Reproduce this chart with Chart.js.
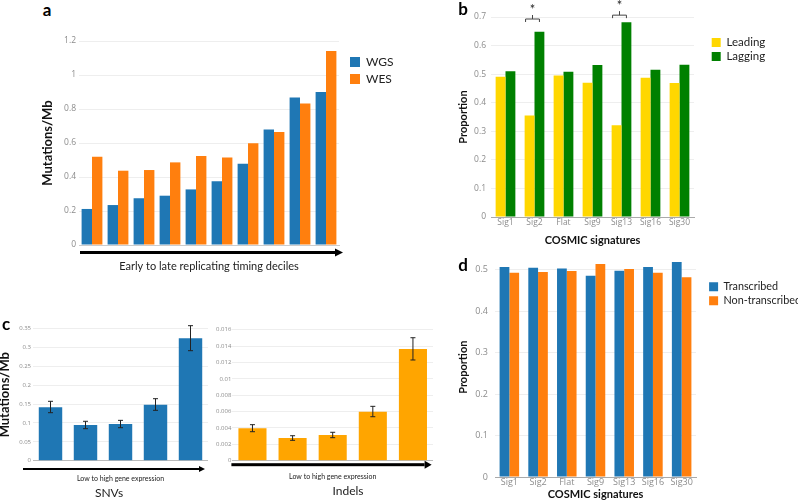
<!DOCTYPE html>
<html>
<head>
<meta charset="utf-8">
<script src="https://cdn.jsdelivr.net/npm/chart.js@4"></script>
<style>
  body { margin: 0; width: 798px; height: 500px; position: relative; overflow: hidden; background: #fff; font-family: Lato, sans-serif; }
  canvas { position: absolute; }
  .tag { position: absolute; transform: translate(-50%, -50%); font-weight: bold; font-size: 17px; line-height: 1; color: #000; }
  .cap { position: absolute; transform: translate(-50%, -50%); line-height: 1; color: #222; white-space: nowrap; }
</style>
</head>
<body>
<canvas id="chartA" width="370" height="252" style="left:30px;top:30px"></canvas>
<canvas id="chartB" width="353" height="250" style="left:445px;top:0px"></canvas>
<canvas id="chartD" width="353" height="255" style="left:445px;top:245px"></canvas>
<canvas id="chartSnv" width="212" height="186" style="left:-4px;top:300px"></canvas>
<canvas id="chartIndel" width="228" height="184" style="left:205px;top:300px"></canvas>

<div class="tag" style="left:47px;top:9px">a</div>
<div class="tag" style="left:463px;top:8px">b</div>
<div class="tag" style="left:6px;top:323px">c</div>
<div class="tag" style="left:463px;top:264px">d</div>
<div class="cap" style="left:109px;top:493px;font-size:12px">SNVs</div>
<div class="cap" style="left:348px;top:491px;font-size:12px">Indels</div>

<script>
// panel a: replication timing deciles
const decileLabels = ['D1', 'D2', 'D3', 'D4', 'D5', 'D6', 'D7', 'D8', 'D9', 'D10'];
const wgsRate = [0.212, 0.235, 0.275, 0.290, 0.327, 0.375, 0.478, 0.680, 0.867, 0.900];
const wesRate = [0.519, 0.437, 0.441, 0.486, 0.524, 0.514, 0.598, 0.665, 0.833, 1.141];

// panel b: replication strand
const sigLabels = ['Sig1', 'Sig2', 'Flat', 'Sig9', 'Sig13', 'Sig16', 'Sig30'];
const leadingProp = [0.491, 0.355, 0.495, 0.470, 0.321, 0.487, 0.469];
const laggingProp = [0.510, 0.648, 0.508, 0.532, 0.682, 0.515, 0.533];
const significantSigs = ['Sig2', 'Sig13'];

// panel c: gene expression bins
const exprBins = ['Q1', 'Q2', 'Q3', 'Q4', 'Q5'];
const snvRate = [0.1416, 0.0947, 0.0973, 0.1485, 0.3246];
const snvLow = [0.1273, 0.0849, 0.0875, 0.1336, 0.2917];
const snvHigh = [0.1575, 0.1045, 0.1070, 0.1644, 0.3580];
const indelRate = [0.00396, 0.00277, 0.00314, 0.00598, 0.01364];
const indelLow = [0.00354, 0.00249, 0.00281, 0.00537, 0.01230];
const indelHigh = [0.00440, 0.00305, 0.00347, 0.00664, 0.01502];

// panel d: transcription strand
const transcribedProp = [0.507, 0.505, 0.503, 0.486, 0.498, 0.507, 0.519];
const nonTranscribedProp = [0.493, 0.495, 0.497, 0.514, 0.502, 0.493, 0.482];

Chart.defaults.font.family = 'Lato, sans-serif';
Chart.defaults.color = '#222';
Chart.defaults.animation = false;

const tickColor = '#8c8c8c';
const gridColor = '#eeeeee';
const trim = v => String(Math.round(v * 1e6) / 1e6);

// legend keeps a fixed reserved width and sits where the original has it
function placeLegend(width, x, y) {
  return {
    id: 'placeLegend',
    afterInit(chart) {
      const lg = chart.legend;
      const fit = lg.fit;
      lg.fit = function () { fit.call(this); this.width = width; };
    },
    afterLayout(chart) {
      const lg = chart.legend;
      const w = lg.width, h = lg.height;
      lg.left = x; lg.right = x + w; lg.top = y; lg.bottom = y + h;
    }
  };
}

// black arrow under the x axis
function axisArrow({ dy, from, to, lw, head, hh }) {
  return {
    id: 'axisArrow',
    afterDraw(chart) {
      const { ctx, chartArea: a } = chart;
      const y = a.bottom + dy, x0 = a.left + from, x1 = a.right + to;
      ctx.save();
      ctx.fillStyle = '#000';
      ctx.fillRect(x0, y - lw / 2, x1 - head - x0, lw);
      ctx.beginPath();
      ctx.moveTo(x1, y);
      ctx.lineTo(x1 - head, y - hh);
      ctx.lineTo(x1 - head, y + hh);
      ctx.closePath();
      ctx.fill();
      ctx.restore();
    }
  };
}

function errorBars(low, high, cap) {
  return {
    id: 'errorBars',
    afterDatasetsDraw(chart) {
      const { ctx, scales: { y } } = chart;
      ctx.save();
      ctx.strokeStyle = '#222';
      ctx.lineWidth = 1;
      chart.getDatasetMeta(0).data.forEach((bar, i) => {
        const t = y.getPixelForValue(high[i]), b = y.getPixelForValue(low[i]);
        ctx.beginPath();
        ctx.moveTo(bar.x, t); ctx.lineTo(bar.x, b);
        ctx.moveTo(bar.x - cap, t); ctx.lineTo(bar.x + cap, t);
        ctx.moveTo(bar.x - cap, b); ctx.lineTo(bar.x + cap, b);
        ctx.stroke();
      });
      ctx.restore();
    }
  };
}

function sigBrackets(cats) {
  return {
    id: 'sigBrackets',
    afterDraw(chart) {
      const { ctx, chartArea } = chart;
      const m0 = chart.getDatasetMeta(0), m1 = chart.getDatasetMeta(1);
      ctx.save();
      ctx.strokeStyle = '#444';
      ctx.lineWidth = 1;
      ctx.fillStyle = '#222';
      ctx.font = '13px Lato';
      ctx.textAlign = 'center';
      ctx.textBaseline = 'middle';
      cats.forEach(c => {
        const i = sigLabels.indexOf(c);
        const x0 = m0.data[i].x - 4, x1 = m1.data[i].x, xm = (x0 + x1) / 2;
        const y = Math.min(chartArea.top + 2, m1.data[i].y - 7);
        ctx.beginPath();
        ctx.moveTo(x0, y + 3); ctx.lineTo(x0, y); ctx.lineTo(x1, y); ctx.lineTo(x1, y + 3);
        ctx.moveTo(xm, y); ctx.lineTo(xm, y - 4);
        ctx.stroke();
        ctx.fillText('*', xm, y - 9);
      });
      ctx.restore();
    }
  };
}

function yAxis({ max, step, width, size, pad, title, titleSize = 12, titlePad, bounds = true }) {
  return {
    min: 0, max,
    afterFit: s => { s.width = width; },
    border: { display: false },
    grid: { color: gridColor, drawTicks: false },
    ticks: { stepSize: step, padding: pad, color: tickColor, includeBounds: bounds,
             font: { family: '"Open Sans", sans-serif', size }, callback: trim },
    title: title
      ? { display: true, text: title, color: '#111', font: { size: titleSize, weight: 'bold' }, padding: { top: titlePad, bottom: 0 } }
      : { display: false }
  };
}

function legendOpts(box, size, pad) {
  return { position: 'right', align: 'start',
           labels: { boxWidth: box, boxHeight: box, padding: pad, color: '#222', font: { size } } };
}

// ---- a
new Chart(document.getElementById('chartA'), {
  type: 'bar',
  data: {
    labels: decileLabels,
    datasets: [
      { label: 'WGS', data: wgsRate, backgroundColor: '#1f77b4' },
      { label: 'WES', data: wesRate, backgroundColor: '#ff7f0e' }
    ]
  },
  options: {
    responsive: false,
    layout: { padding: { top: 11 } },
    datasets: { bar: { categoryPercentage: 0.8, barPercentage: 1 } },
    scales: {
      x: {
        afterFit: s => { s.height = 37; },
        grid: { display: false, drawTicks: false },
        border: { color: '#cccccc' },
        ticks: { display: false },
        title: { display: true, text: 'Early to late replicating timing deciles', color: '#222',
                 font: { size: 11 }, padding: { top: 0, bottom: 9.4 } }
      },
      y: yAxis({ max: 1.2, step: 0.2, width: 49, size: 8.5, pad: 3, title: 'Mutations/Mb', titleSize: 13, titlePad: 10 })
    },
    plugins: { legend: legendOpts(10, 12, 5), tooltip: { enabled: false } }
  },
  plugins: [placeLegend(61, 315, 21), axisArrow({ dy: 7.5, from: 1, to: 4, lw: 3, head: 8, hh: 4 })]
});

// ---- b
new Chart(document.getElementById('chartB'), {
  type: 'bar',
  data: {
    labels: sigLabels,
    datasets: [
      { label: 'Leading', data: leadingProp, backgroundColor: '#ffd700' },
      { label: 'Lagging', data: laggingProp, backgroundColor: '#008000' }
    ]
  },
  options: {
    responsive: false,
    layout: { padding: { top: 17 } },
    datasets: { bar: { categoryPercentage: 0.68, barPercentage: 1 } },
    scales: {
      x: {
        afterFit: s => { s.height = 33; },
        grid: { display: false, drawTicks: false },
        border: { color: '#aaaaaa' },
        ticks: { padding: 0, color: tickColor, font: { family: '"Open Sans", sans-serif', size: 8.5 } },
        title: { display: true, text: 'COSMIC signatures', color: '#111',
                 font: { size: 11, weight: 'bold' }, padding: { top: 0, bottom: 3.4 } }
      },
      y: yAxis({ max: 0.7, step: 0.1, width: 46, size: 8.5, pad: 5, title: 'Proportion', titleSize: 11, titlePad: 11.4 })
    },
    plugins: { legend: legendOpts(9, 11.5, 2.5), tooltip: { enabled: false } }
  },
  plugins: [placeLegend(104, 264.2, 34.2), sigBrackets(significantSigs)]
});

// ---- d
new Chart(document.getElementById('chartD'), {
  type: 'bar',
  data: {
    labels: sigLabels,
    datasets: [
      { label: 'Transcribed', data: transcribedProp, backgroundColor: '#1f77b4' },
      { label: 'Non-transcribed', data: nonTranscribedProp, backgroundColor: '#ff7f0e' }
    ]
  },
  options: {
    responsive: false,
    layout: { padding: { top: 5.5 } },
    datasets: { bar: { categoryPercentage: 0.68, barPercentage: 1 } },
    scales: {
      x: {
        afterFit: s => { s.height = 23; },
        grid: { display: false, drawTicks: false },
        border: { color: '#aaaaaa' },
        ticks: { padding: 0, color: tickColor, font: { family: '"Open Sans", sans-serif', size: 9 } },
        title: { display: true, text: 'COSMIC signatures', color: '#111',
                 font: { size: 11, weight: 'bold', lineHeight: 1 }, padding: { top: 0, bottom: 0.5 } }
      },
      y: yAxis({ max: 0.53, step: 0.1, width: 50, size: 9, pad: 7, title: 'Proportion', titleSize: 11, titlePad: 11.4, bounds: false })
    },
    plugins: { legend: legendOpts(9, 10.8, 3.3), tooltip: { enabled: false } }
  },
  plugins: [placeLegend(102, 260.8, 33), sigBrackets([])]
});

// ---- c, SNVs
new Chart(document.getElementById('chartSnv'), {
  type: 'bar',
  data: { labels: exprBins, datasets: [{ label: 'SNVs', data: snvRate, backgroundColor: '#1f77b4' }] },
  options: {
    responsive: false,
    layout: { padding: { top: 28.7 } },
    datasets: { bar: { categoryPercentage: 0.67, barPercentage: 1 } },
    scales: {
      x: {
        afterFit: s => { s.height = 25.3; },
        grid: { display: false, drawTicks: false },
        border: { color: '#bbbbbb' },
        ticks: { display: false },
        title: { display: true, text: 'Low to high gene expression', color: '#222',
                 font: { size: 7 }, padding: { top: 0, bottom: 2.8 } }
      },
      y: yAxis({ max: 0.35, step: 0.05, width: 37, size: 6, pad: 2, title: 'Mutations/Mb', titleSize: 13, titlePad: 1.2 })
    },
    plugins: { legend: { display: false }, tooltip: { enabled: false } }
  },
  plugins: [errorBars(snvLow, snvHigh, 2.5), axisArrow({ dy: 8.3, from: -10, to: -3, lw: 2, head: 6, hh: 3 })]
});

// ---- c, Indels
new Chart(document.getElementById('chartIndel'), {
  type: 'bar',
  data: { labels: exprBins, datasets: [{ label: 'Indels', data: indelRate, backgroundColor: '#ffa500' }] },
  options: {
    responsive: false,
    layout: { padding: { top: 29.7 } },
    datasets: { bar: { categoryPercentage: 0.7, barPercentage: 1 } },
    scales: {
      x: {
        afterFit: s => { s.height = 23.3; },
        grid: { display: false, drawTicks: false },
        border: { color: '#bbbbbb' },
        ticks: { display: false },
        title: { display: true, text: 'Low to high gene expression', color: '#222',
                 font: { size: 7 }, padding: { top: 0, bottom: 3.1 } }
      },
      y: yAxis({ max: 0.016, step: 0.002, width: 27.4, size: 6, pad: 1 })
    },
    plugins: { legend: { display: false }, tooltip: { enabled: false } }
  },
  plugins: [errorBars(indelLow, indelHigh, 2.5), axisArrow({ dy: 4, from: -1, to: -1.4, lw: 3, head: 7, hh: 4 })]
});
</script>
</body>
</html>
